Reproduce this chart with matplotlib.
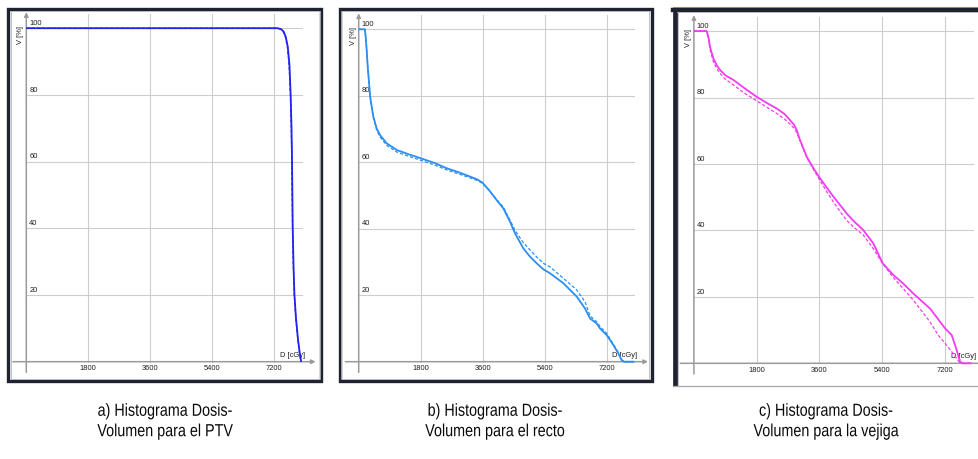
import matplotlib
matplotlib.use("Agg")
import matplotlib.pyplot as plt
from matplotlib.patches import Rectangle
from matplotlib import patheffects
from matplotlib.transforms import Affine2D

W, H = 979, 459

# ---- axis ticks ----
x_ticks = [1800, 3600, 5400, 7200]
y_ticks = [20, 40, 60, 80, 100]

# ---- a) PTV ----
ptv_dose_1 = [0, 7300, 7400, 7470, 7530, 7590, 7640, 7675, 7700, 7715, 7735,
              7760, 7785, 7830, 7890, 7940, 7980]
ptv_vol_1 = [100, 100, 99.7, 99.0, 97.5, 94.5, 89.0, 80.0, 70.0, 60.0, 40.0,
             28.0, 20.0, 13.0, 6.5, 2.5, 0.0]
ptv_dose_2 = [0, 7280, 7380, 7455, 7520, 7580, 7630, 7668, 7693, 7710, 7730,
              7755, 7780, 7825, 7885, 7935, 7975]
ptv_vol_2 = ptv_vol_1

# ---- b) recto ----
rect_dose = [0, 180, 205, 232, 261, 310, 329, 377, 426, 522, 619, 813, 1103,
             1450, 1800, 2200, 2555, 2900, 3232, 3450, 3600, 3800, 4006, 4200,
             4393, 4539, 4780, 4974, 5168, 5361, 5555, 5942, 6329, 6571, 6716,
             6910, 7006, 7200, 7393, 7538, 7635, 7700, 8000]
rect_vol_1 = [100, 100, 97.5, 93.8, 88.8, 82.7, 80.0, 76.7, 73.7, 70.2, 68.2,
              65.7, 63.7, 62.4, 61.2, 59.8, 58.2, 57.0, 55.7, 54.8, 53.8, 51.4,
              48.6, 46.1, 42.1, 38.6, 34.1, 31.6, 29.6, 27.8, 26.6, 23.6, 19.6,
              16.0, 13.0, 11.5, 10.0, 8.0, 5.0, 2.5, 0.5, 0.0, 0.0]
rect_vol_2 = [100, 100, 97.5, 93.8, 88.8, 82.7, 80.0, 76.5, 73.3, 69.7, 67.6,
              65.1, 63.1, 61.8, 60.6, 59.2, 57.7, 56.5, 55.3, 54.5, 53.6, 51.4,
              48.8, 46.5, 42.6, 39.5, 35.8, 33.6, 31.5, 29.6, 28.5, 25.1, 21.6,
              18.0, 13.8, 12.0, 10.6, 8.5, 5.3, 2.7, 0.5, 0.0, 0.0]

# ---- c) vejiga ----
bladder_dose = [0, 366, 420, 461, 557, 650, 748, 900, 1130, 1450, 1800, 2100,
                2372, 2600, 2754, 2870, 2946, 3041, 3232, 3420, 3614, 3800,
                3996, 4200, 4378, 4600, 4856, 5142, 5410, 5716, 6000, 6289,
                6766, 7000, 7200, 7389, 7532, 7627, 7700, 7960]
bladder_vol_1 = [100, 100, 98.0, 95.3, 91.8, 89.8, 88.3, 86.7, 85.3, 82.8,
                 80.2, 78.3, 76.7, 75.0, 73.2, 71.8, 70.2, 67.2, 62.2, 58.8,
                 55.7, 53.0, 50.2, 47.5, 45.1, 42.6, 40.1, 36.1, 30.1, 26.6,
                 24.0, 21.0, 16.5, 13.3, 10.5, 8.5, 4.0, 0.5, 0.0, 0.0]
bladder_vol_2 = [100, 100, 97.5, 94.5, 90.8, 88.8, 87.3, 85.5, 83.8, 81.3,
                 79.0, 77.0, 75.2, 73.5, 72.0, 70.8, 69.5, 67.0, 62.0, 58.5,
                 55.0, 51.8, 48.6, 45.5, 43.0, 40.8, 38.6, 34.5, 30.0, 25.8,
                 22.5, 19.0, 12.5, 8.5, 6.0, 3.5, 1.5, 0.0, 0.0, 0.0]

captions = ["a) Histograma Dosis-\nVolumen para el PTV",
            "b) Histograma Dosis-\nVolumen para el recto",
            "c) Histograma Dosis-\nVolumen para la vejiga"]

fig = plt.figure(figsize=(W / 100, H / 100), dpi=100)
fig.patch.set_facecolor("white")

GRID = "#cdcdcd"
AXIS = "#9a9a9a"
TXT = "#1e1e1e"
TICK_FONT = dict(family=["Liberation Sans", "DejaVu Sans"], size=5.4, color=TXT)

XLIM = (-420, 8420)
YLIM = (-3.4, 104.9)


class SqueezeX(patheffects.AbstractPathEffect):
    """Narrow the glyphs horizontally around a fixed pixel column."""

    def __init__(self, cx, factor):
        super().__init__()
        self.cx = cx
        self.factor = factor

    def draw_path(self, renderer, gc, tpath, affine, rgbFace=None):
        squeeze = (Affine2D().translate(-self.cx, 0)
                   .scale(self.factor, 1).translate(self.cx, 0))
        renderer.draw_path(gc, tpath, affine + squeeze, rgbFace)


def px_rect(x0, y0, x1, y1, **kw):
    """Rectangle given in pixel coordinates from the top-left corner."""
    r = Rectangle((x0 / W, 1 - y1 / H), (x1 - x0) / W, (y1 - y0) / H,
                  transform=fig.transFigure, **kw)
    fig.patches.append(r)


def px_line(xs, ys, **kw):
    fig.add_artist(plt.Line2D([x / W for x in xs], [1 - y / H for y in ys],
                              transform=fig.transFigure, **kw))


def dvh_axes(x0, sx, y0, sy):
    """Axes whose data origin sits at pixel (x0, y0), sx px per cGy, sy px per %."""
    left = x0 + XLIM[0] * sx
    right = x0 + XLIM[1] * sx
    bottom = y0 - YLIM[0] * sy
    top = y0 - YLIM[1] * sy
    ax = fig.add_axes([left / W, 1 - bottom / H, (right - left) / W,
                       (bottom - top) / H])
    ax.set_xlim(XLIM)
    ax.set_ylim(YLIM)
    ax.axis("off")

    for v in y_ticks:
        ax.plot([0, 8000], [v, v], color=GRID, lw=0.8, zorder=1)
        ax.text(85, v + 0.4, str(v), ha="left", va="bottom", **TICK_FONT)
    for d in x_ticks:
        ax.plot([d, d], [0, 104.3], color=GRID, lw=0.8, zorder=1)
        ax.text(d, -1.1, str(d), ha="center", va="top", **TICK_FONT)

    ax.annotate("", xy=(8400, 0), xytext=(-390, 0),
                arrowprops=dict(arrowstyle="-|>", color=AXIS, lw=1.1,
                                mutation_scale=6, shrinkA=0, shrinkB=0),
                zorder=2)
    ax.annotate("", xy=(0, 104.8), xytext=(0, -3.2),
                arrowprops=dict(arrowstyle="-|>", color=AXIS, lw=1.1,
                                mutation_scale=6, shrinkA=0, shrinkB=0),
                zorder=2)
    ax.text(-165, 98, "V [%]", rotation=90, ha="center", va="center",
            **TICK_FONT)
    ax.text(8090, 0.9, "D [cGy]", ha="right", va="bottom", **TICK_FONT)
    return ax


def draw_pair(ax, d1, v1, d2, v2, color):
    ax.plot(d1, v1, color=color, lw=1.3, zorder=4, solid_capstyle="butt")
    ax.plot(d2, v2, color=color, lw=0.9, ls=(0, (2.6, 1.6)), zorder=5)


# ---- frames ----
FRAME = "#1f2230"
for x0, x1 in [(7, 323), (338, 653)]:
    px_rect(x0 + 1.5, 8.5, x1 - 1.5, 380.5, fill=False, ec=FRAME, lw=2.4)
    px_rect(x0 + 3.5, 10.5, x1 - 3.5, 378.5, fill=False, ec="#b4b4b4", lw=0.6)

# third frame runs past the right edge
px_line([673, 979], [7.2, 7.2], color="#c9a46a", lw=0.8)
px_line([673, 979], [10.0, 10.0], color=FRAME, lw=3.2)
px_line([675.2, 675.2], [8, 385.5], color=FRAME, lw=3.4, solid_capstyle="butt")
px_line([677, 979], [12.4, 12.4], color="#b4b4b4", lw=0.6)
px_line([677.6, 677.6], [12, 385], color="#b4b4b4", lw=0.6)
px_line([673, 979], [386.2, 386.2], color="#a8a8a8", lw=0.9)

# ---- panels ----
ax_a = dvh_axes(26.3, 62 / 1800, 361.7, 3.335)
draw_pair(ax_a, ptv_dose_1, ptv_vol_1, ptv_dose_2, ptv_vol_2, "#2323f0")

ax_b = dvh_axes(358.7, 62 / 1800, 361.7, 3.324)
draw_pair(ax_b, rect_dose, rect_vol_1, rect_dose, rect_vol_2, "#2b8ef0")

ax_c = dvh_axes(693.9, 62.8 / 1800, 363.3, 3.3225)
draw_pair(ax_c, bladder_dose, bladder_vol_1, bladder_dose, bladder_vol_2,
          "#f23cf0")

# ---- captions (narrow sans, as in the source document) ----
for cx, cap in zip([165, 495, 826], captions):
    fig.text(cx / W, 1 - 421.5 / H, cap, ha="center", va="center",
             family=["Liberation Sans", "DejaVu Sans"],
             size=12.6, color="#0a0a0a", linespacing=1.45,
             path_effects=[SqueezeX(cx, 0.82)])

fig.savefig("out.png", dpi=100, facecolor="white")
